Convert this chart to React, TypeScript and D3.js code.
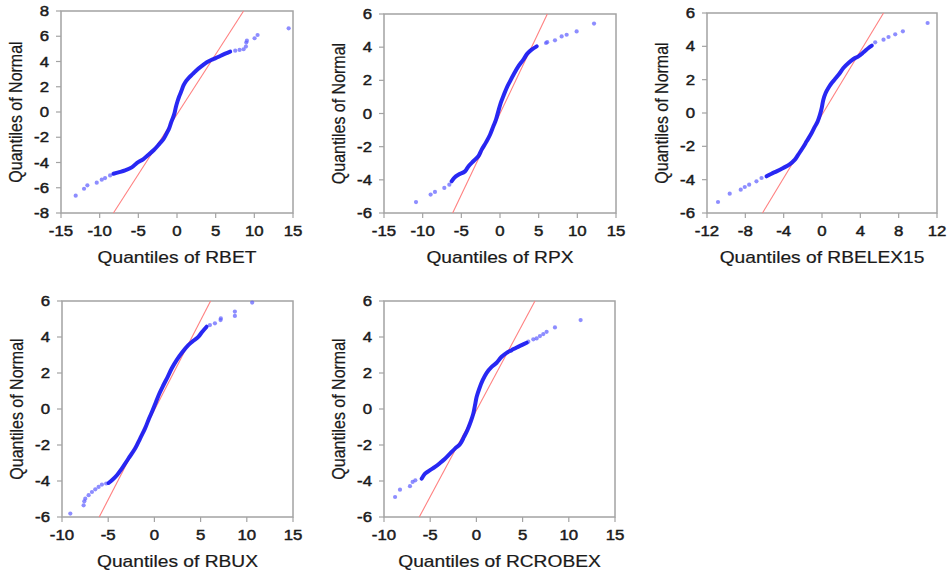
import React from 'react';
import * as d3 from 'd3';

type Pt = [number, number];

// RBET: dense middle of the Q-Q curve and the sparse points in the tails
const rbetBody: Pt[] = [
  [-8.22, -4.89], [-7.57, -4.78], [-6.71, -4.63], [-5.85, -4.39], [-5.2, -4.05], [-4.34, -3.73],
  [-3.69, -3.39], [-2.96, -2.99], [-2.27, -2.52], [-1.75, -2.15], [-1.32, -1.67], [-1.01, -1.28],
  [-0.76, -0.83], [-0.54, -0.49], [-0.32, -0.09], [-0.15, 0.38], [0.06, 0.83], [0.28, 1.23],
  [0.54, 1.62], [0.84, 2.1], [1.19, 2.46], [1.58, 2.75], [2.05, 3.02], [2.57, 3.33], [3.22, 3.65],
  [3.86, 3.94], [4.42, 4.12], [4.94, 4.25], [5.59, 4.44], [6.24, 4.62], [6.88, 4.78],
];
const rbetTail: Pt[] = [
  [-13.1, -6.63], [-12.02, -6.08], [-11.59, -5.81], [-10.38, -5.6], [-9.73, -5.36], [-9.3, -5.23],
  [-8.65, -5.02], [7.53, 4.86], [8.09, 4.92], [8.61, 4.97], [8.91, 5.18], [8.96, 5.5], [9.04, 5.65],
  [10.03, 5.84], [10.42, 6.1], [14.44, 6.63],
];
const rbetRef: Pt[] = [[-8.22, -8], [8.61, 8]];

// RPX
const rpxBody: Pt[] = [
  [-6.25, -4.09], [-5.95, -3.89], [-5.39, -3.69], [-4.53, -3.49], [-4.09, -3.19], [-3.45, -2.88],
  [-2.8, -2.58], [-2.37, -2.18], [-1.81, -1.74], [-1.29, -1.28], [-0.86, -0.77], [-0.52, -0.37],
  [-0.22, 0.13], [0.09, 0.63], [0.43, 1.04], [0.86, 1.54], [1.29, 1.94], [1.81, 2.4], [2.37, 2.84],
  [3.02, 3.25], [3.53, 3.61], [4.09, 3.85], [4.74, 4.05],
];
const rpxTail: Pt[] = [
  [-10.86, -5.34], [-8.97, -4.89], [-8.41, -4.73], [-7.2, -4.49], [-6.55, -4.29], [5.95, 4.25],
  [6.1, 4.3], [7.11, 4.41], [7.97, 4.65], [8.62, 4.75], [9.91, 4.95], [12.16, 5.42],
];
const rpxRef: Pt[] = [[-6.12, -6], [6.12, 6]];

// RBELEX15
const rbelexBody: Pt[] = [
  [-5.79, -3.8], [-5.27, -3.64], [-4.74, -3.5], [-4.05, -3.3], [-3.42, -3.1], [-2.83, -2.8],
  [-2.48, -2.5], [-2.02, -2.1], [-1.6, -1.7], [-1.08, -1.2], [-0.73, -0.8], [-0.45, -0.5],
  [-0.21, -0.1], [-0.03, 0.3], [0.14, 0.8], [0.38, 1.2], [0.66, 1.5], [1.01, 1.8], [1.36, 2.04],
  [1.81, 2.36], [2.23, 2.7], [2.76, 3.0], [3.28, 3.24], [3.8, 3.4], [4.33, 3.64], [4.85, 3.9],
  [5.2, 4.04],
];
const rbelexTail: Pt[] = [
  [-10.85, -5.34], [-9.63, -4.84], [-8.48, -4.6], [-8.06, -4.44], [-7.6, -4.3], [-6.84, -4.1],
  [-6.31, -3.9], [5.55, 4.24], [6.42, 4.4], [6.94, 4.56], [7.64, 4.72], [8.44, 4.9], [11.02, 5.4],
];
const rbelexRef: Pt[] = [[-6.21, -6], [6.42, 6]];

// RBUX
const rbuxBody: Pt[] = [
  [-4.96, -4.11], [-4.6, -3.96], [-4.06, -3.68], [-3.53, -3.31], [-2.81, -2.75], [-2.09, -2.2],
  [-1.55, -1.64], [-1.01, -1.08], [-0.58, -0.53], [-0.18, -0.06], [0.18, 0.4], [0.54, 0.86],
  [0.97, 1.32], [1.44, 1.79], [1.87, 2.25], [2.41, 2.72], [3.06, 3.18], [3.67, 3.55], [4.21, 3.79],
  [4.75, 4.01], [5.18, 4.29], [5.65, 4.57],
];
const rbuxTail: Pt[] = [
  [-9.1, -5.81], [-7.66, -5.35], [-7.59, -5.13], [-7.48, -4.98], [-7.12, -4.79], [-6.76, -4.61],
  [-6.4, -4.46], [-6.04, -4.33], [-5.68, -4.2], [-5.22, -4.14], [6.01, 4.66], [6.55, 4.76],
  [7.16, 4.94], [7.19, 5.03], [8.71, 5.17], [8.71, 5.41], [10.58, 5.91],
];
const rbuxRef: Pt[] = [[-5.97, -6], [6.08, 6]];

// RCROBEX
const rcrobexBody: Pt[] = [
  [-5.92, -3.87], [-5.56, -3.59], [-5.02, -3.4], [-4.48, -3.22], [-3.94, -3.0], [-3.4, -2.76],
  [-2.86, -2.48], [-2.32, -2.2], [-1.78, -1.96], [-1.34, -1.55], [-0.98, -1.18], [-0.62, -0.71],
  [-0.33, -0.25], [-0.15, 0.21], [0.03, 0.68], [0.32, 1.14], [0.68, 1.6], [1.11, 2.01], [1.65, 2.34],
  [2.19, 2.57], [2.73, 2.9], [3.27, 3.12], [3.82, 3.27], [4.36, 3.42], [4.9, 3.55], [5.44, 3.68],
];
const rcrobexTail: Pt[] = [
  [-8.8, -4.89], [-8.27, -4.48], [-7.19, -4.29], [-6.9, -4.05], [-6.61, -3.96], [5.62, 3.74],
  [6.16, 3.87], [6.52, 3.92], [6.88, 4.05], [7.24, 4.16], [7.6, 4.29], [8.5, 4.53], [11.28, 4.94],
];
const rcrobexRef: Pt[] = [[-6.18, -6], [6.34, 6]];

const ticksX15 = [-15, -10, -5, 0, 5, 10, 15];
const ticksX12 = [-12, -8, -4, 0, 4, 8, 12];
const ticksX10 = [-10, -5, 0, 5, 10, 15];
const ticksY8 = [-8, -6, -4, -2, 0, 2, 4, 6, 8];
const ticksY6 = [-6, -4, -2, 0, 2, 4, 6];

const panels = [
  { name: 'RBET', body: rbetBody, tail: rbetTail, ref: rbetRef, xTicks: ticksX15, yTicks: ticksY8, box: [61, 293, 11, 213] },
  { name: 'RPX', body: rpxBody, tail: rpxTail, ref: rpxRef, xTicks: ticksX15, yTicks: ticksY6, box: [384, 616, 14, 213] },
  { name: 'RBELEX15', body: rbelexBody, tail: rbelexTail, ref: rbelexRef, xTicks: ticksX12, yTicks: ticksY6, box: [707, 937, 13, 213] },
  { name: 'RBUX', body: rbuxBody, tail: rbuxTail, ref: rbuxRef, xTicks: ticksX10, yTicks: ticksY6, box: [62, 293, 301, 517] },
  { name: 'RCROBEX', body: rcrobexBody, tail: rcrobexTail, ref: rcrobexRef, xTicks: ticksX10, yTicks: ticksY6, box: [384, 615, 301, 517] },
];

const font = '"Liberation Sans", Arial, sans-serif';
const stretch = 1.2; // the source picture is widened a little
const ink = '#1a1a1a';

function Panel({ p }: { p: typeof panels[number] }) {
  const [left, right, top, bottom] = p.box;
  const x = d3.scaleLinear().domain(d3.extent(p.xTicks) as [number, number]).range([left, right]);
  const y = d3.scaleLinear().domain(d3.extent(p.yTicks) as [number, number]).range([bottom, top]);
  const curve = d3.line<Pt>().x(d => x(d[0])).y(d => y(d[1])).curve(d3.curveCatmullRom);
  const refLine = d3.line<Pt>().x(d => x(d[0])).y(d => y(d[1]));

  return (
    <g>
      <rect x={left} y={top} width={right - left} height={bottom - top} fill="white" stroke="#a3a3a3" strokeWidth={1.5} />
      {p.yTicks.map(t => (
        <g key={'y' + t}>
          <line x1={left - 5} x2={left} y1={y(t)} y2={y(t)} stroke="#a3a3a3" strokeWidth={1.2} />
          <text transform={`translate(${left - 12},${y(t)}) scale(${stretch},1)`} dy="0.36em" textAnchor="end"
            fontSize={14} fill={ink} stroke={ink} strokeWidth={0.45}>{t}</text>
        </g>
      ))}
      {p.xTicks.map(t => (
        <g key={'x' + t}>
          <line x1={x(t)} x2={x(t)} y1={bottom} y2={bottom + 5} stroke="#a3a3a3" strokeWidth={1.2} />
          <text transform={`translate(${x(t)},${bottom + 23}) scale(${stretch},1)`} textAnchor="middle"
            fontSize={14} fill={ink} stroke={ink} strokeWidth={0.45}>{t}</text>
        </g>
      ))}
      <path d={refLine(p.ref) || ''} stroke="#ff8080" strokeWidth={1.1} fill="none" />
      {p.tail.map((d, i) => (
        <circle key={i} cx={x(d[0])} cy={y(d[1])} r={2.1} fill="#5c5cff" fillOpacity={0.7} />
      ))}
      <path d={curve(p.body) || ''} stroke="#1616f2" strokeWidth={4} fill="none" strokeLinecap="round" strokeOpacity={0.92} />
      <text transform={`translate(${(left + right) / 2},${bottom + 50}) scale(${stretch},1)`} textAnchor="middle"
        fontSize={16} fill={ink} stroke={ink} strokeWidth={0.2}>{`Quantiles of ${p.name}`}</text>
      <text transform={`translate(${left - 46},${(top + bottom) / 2}) scale(${stretch},1) rotate(-90)`}
        dy="0.36em" textAnchor="middle" fontSize={16} fill={ink} stroke={ink} strokeWidth={0.2}>Quantiles of Normal</text>
    </g>
  );
}

export default function App() {
  return (
    <svg width={949} height={573} style={{ position: 'absolute', left: 0, top: 0, background: 'white' }}
      fontFamily={font}>
      <rect width={949} height={573} fill="white" />
      {panels.map(p => <Panel key={p.name} p={p} />)}
    </svg>
  );
}
